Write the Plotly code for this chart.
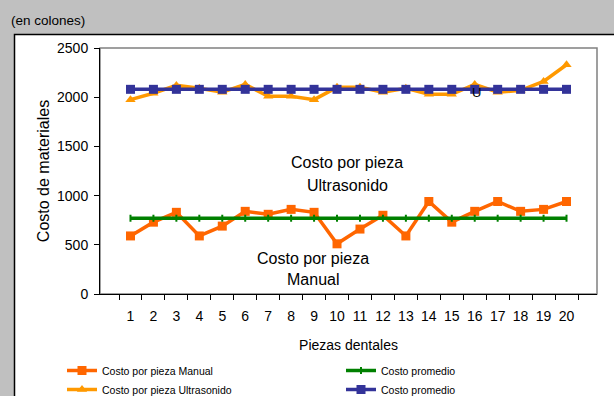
import plotly.graph_objects as go

piezas = [str(i) for i in range(1, 21)]
manual = [590, 730, 830, 590, 690, 840, 810, 860, 830, 510, 660, 800, 590, 940, 730, 840, 940, 840, 860, 940]
ultra = [1975, 2040, 2120, 2090, 2050, 2130, 2010, 2010, 1975, 2100, 2100, 2050, 2090, 2030, 2030, 2130, 2050, 2070, 2160, 2330]
prom_manual = [770] * 20
prom_ultra = [2080] * 20

W, H = 614, 396
L, R, T, B = 100, 597, 48, 294
pw, ph = R - L, B - T

def px(x):
    return (x - L) / pw

def py(y):
    return (B - y) / ph

font = "Liberation Sans, Arial, sans-serif"

fig = go.Figure()
fig.add_trace(go.Scatter(x=piezas, y=manual, name="Costo por pieza Manual", mode="lines+markers",
                         line=dict(color="#ff6600", width=3.5), marker=dict(symbol="square", size=9, color="#ff6600")))
fig.add_trace(go.Scatter(x=piezas, y=prom_manual, name="Costo promedio", mode="lines+markers",
                         line=dict(color="#008000", width=3.5), marker=dict(symbol="line-ns", size=5, color="#008000",
                         line=dict(color="#008000", width=2))))
fig.add_trace(go.Scatter(x=piezas, y=ultra, name="Costo por pieza Ultrasonido", mode="lines+markers",
                         line=dict(color="#ff9900", width=3.5), marker=dict(symbol="triangle-up", size=9, color="#ff9900")))
fig.add_trace(go.Scatter(x=piezas, y=prom_ultra, name="Costo promedio", mode="lines+markers",
                         line=dict(color="#333399", width=3.5), marker=dict(symbol="square", size=9, color="#333399")))

fig.update_layout(
    width=W, height=H,
    margin=dict(l=L, r=W - R, t=T, b=H - B, autoexpand=False),
    paper_bgcolor="#c0c0c0", plot_bgcolor="white",
    font=dict(family=font, color="black", size=13),
    showlegend=True,
    legend=dict(orientation="h", x=px(62), y=py(356), xanchor="left", yanchor="top",
                entrywidth=234, entrywidthmode="pixels", font=dict(size=10.5),
                bgcolor="rgba(0,0,0,0)", tracegroupgap=0, itemwidth=30),
    xaxis=dict(type="category", tickson="boundaries", ticks="outside", ticklen=5, tickcolor="black",
               showline=True, linecolor="black", linewidth=1, showgrid=False, tickangle=0, automargin=False,
               ticklabelstandoff=9,
               tickfont=dict(size=14), title=dict(text="Piezas dentales", font=dict(size=14), standoff=17)),
    yaxis=dict(range=[0, 2500], dtick=500, ticks="outside", ticklen=5, tickcolor="black",
               showline=True, linecolor="black", linewidth=1, showgrid=False, zeroline=False, automargin=False,
               ticklabelstandoff=3,
               tickfont=dict(size=14), title=dict(text="Costo de materiales", font=dict(size=16), standoff=3)),
    shapes=[
        dict(type="rect", xref="paper", yref="paper", x0=px(14.5), x1=px(630), y0=py(34.5), y1=py(420),
             fillcolor="white", line=dict(color="black", width=1.5), layer="below"),
        dict(type="rect", xref="paper", yref="paper", x0=0, x1=1, y0=0, y1=1,
             fillcolor="rgba(0,0,0,0)", line=dict(color="#808080", width=1.5), layer="below"),
    ],
    annotations=[
        dict(text="(en colones)", xref="paper", yref="paper", x=px(9), y=py(20), xanchor="left", yanchor="middle",
             showarrow=False, font=dict(size=13.5)),
        dict(text="Costo por pieza", xref="paper", yref="paper", x=px(347), y=py(162),
             xanchor="center", yanchor="middle", showarrow=False, font=dict(size=16)),
        dict(text="Ultrasonido", xref="paper", yref="paper", x=px(347), y=py(185),
             xanchor="center", yanchor="middle", showarrow=False, font=dict(size=16)),
        dict(text="Costo por pieza", xref="paper", yref="paper", x=px(313), y=py(258),
             xanchor="center", yanchor="middle", showarrow=False, font=dict(size=16)),
        dict(text="Manual", xref="paper", yref="paper", x=px(313), y=py(279),
             xanchor="center", yanchor="middle", showarrow=False, font=dict(size=16)),
        dict(text="U", xref="paper", yref="paper", x=px(476), y=py(92),
             xanchor="center", yanchor="middle", showarrow=False, font=dict(size=13)),
    ],
)

fig.write_html("out.html")
